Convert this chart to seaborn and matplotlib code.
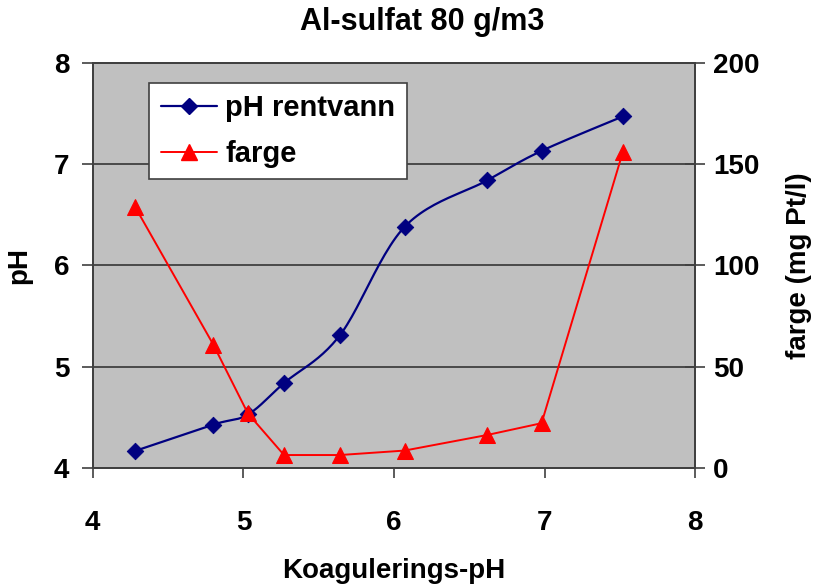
import numpy as np
import pandas as pd
import matplotlib
matplotlib.use("Agg")
import matplotlib.pyplot as plt
from matplotlib.lines import Line2D
import seaborn as sns

# data
KOAG_PH = [4.28, 4.80, 5.03, 5.27, 5.64, 6.07, 6.62, 6.98, 7.52]
PH_RENTVANN = [4.17, 4.43, 4.53, 4.84, 5.31, 6.38, 6.84, 7.13, 7.47]
FARGE = [129, 61, 27, 6.5, 6.5, 8.7, 16.4, 22.2, 156]

TITLE = "Al-sulfat 80 g/m3"
XLABEL = "Koagulerings-pH"
YLABEL = "pH"
Y2LABEL = "farge (mg Pt/l)"

BLUE = "#000080"
RED = "#FF0000"


def smooth_curve(x, y, n=25):
    # Catmull-Rom through the points, like Excel's "smoothed line"
    P = np.column_stack([x, y]).astype(float)
    P = np.vstack([P[0], P, P[-1]])
    t = np.linspace(0, 1, n, endpoint=False)[:, None]
    segs = []
    for i in range(1, len(P) - 2):
        p0, p1, p2, p3 = P[i - 1], P[i], P[i + 1], P[i + 2]
        segs.append(0.5 * (2 * p1 + (-p0 + p2) * t
                           + (2 * p0 - 5 * p1 + 4 * p2 - p3) * t ** 2
                           + (-p0 + 3 * p1 - 3 * p2 + p3) * t ** 3))
    segs.append(P[-2][None])
    c = np.vstack(segs)
    return pd.DataFrame({"x": c[:, 0], "y": c[:, 1]})


sns.set_style("white")
plt.rcParams["font.family"] = ["Liberation Sans", "DejaVu Sans"]
plt.rcParams["font.weight"] = "bold"
for key in ("text.color", "axes.labelcolor", "xtick.labelcolor", "ytick.labelcolor"):
    plt.rcParams[key] = "black"
FS = 20

fig = plt.figure(figsize=(8.14, 5.86), dpi=100)
ax = fig.add_axes([0.114, 0.201, 0.740, 0.692])
ax.set_facecolor("#C0C0C0")

curve = smooth_curve(KOAG_PH, PH_RENTVANN)
sns.lineplot(data=curve, x="x", y="y", ax=ax, color=BLUE, lw=1.6,
             sort=False, estimator=None)
sns.scatterplot(x=KOAG_PH, y=PH_RENTVANN, ax=ax, marker="D", s=70,
                color=BLUE, edgecolor=BLUE, zorder=3)

ax.set_xlim(4, 8)
ax.set_ylim(4, 8)
ax.set_xticks([4, 5, 6, 7, 8])
ax.set_yticks([4, 5, 6, 7, 8])
ax.yaxis.grid(True, color="#404040", lw=1.3)
ax.xaxis.grid(False)
ax.set_axisbelow(True)

ax2 = ax.twinx()
sns.lineplot(x=KOAG_PH, y=FARGE, ax=ax2, color=RED, lw=1.4, marker="^",
             markersize=11, markeredgecolor=RED, sort=False)
ax2.set_ylim(0, 200)
ax2.set_yticks([0, 50, 100, 150, 200])

for a in (ax, ax2):
    for s in a.spines.values():
        s.set_color("#404040")
        s.set_linewidth(1.3)

ax.tick_params(axis="x", direction="out", length=7, width=1.2, color="#404040",
               labelsize=FS, pad=23, bottom=True)
ax.tick_params(axis="y", direction="out", length=8, width=1.2, color="#404040",
               labelsize=FS, pad=9, left=True)
ax2.tick_params(axis="y", direction="inout", length=14, width=1.2,
                color="#404040", labelsize=FS, pad=6, right=True)
for lab in ax.get_xticklabels() + ax.get_yticklabels() + ax2.get_yticklabels():
    lab.set_fontweight("bold")

ax.set_xlabel(XLABEL, fontsize=FS, fontweight="bold")
ax.set_ylabel(YLABEL, fontsize=FS, fontweight="bold")
ax2.set_ylabel(Y2LABEL, fontsize=FS, fontweight="bold", rotation=90)
ax.xaxis.set_label_coords(0.5, -0.222)
ax.yaxis.set_label_coords(-0.10, 0.5)
ax2.yaxis.set_label_coords(1.15, 0.5)

fig.suptitle(TITLE, fontsize=22, fontweight="bold", y=0.963, va="center",
             x=0.519)

handles = [
    Line2D([], [], color=BLUE, lw=1.6, marker="D", markersize=8),
    Line2D([], [], color=RED, lw=1.4, marker="^", markersize=11),
]
leg = ax2.legend(handles, ["pH rentvann", "farge"], loc="upper left",
                 bbox_to_anchor=(0.094, 0.951), borderaxespad=0,
                 fontsize=21, frameon=True, fancybox=False,
                 handlelength=1.9, handletextpad=0.3, borderpad=0.4,
                 labelspacing=0.6)
leg.get_frame().set_edgecolor("#404040")
leg.get_frame().set_linewidth(1.2)
leg.get_frame().set_facecolor("white")
leg.get_frame().set_alpha(1)
for t in leg.get_texts():
    t.set_fontweight("bold")

fig.savefig("out.png", dpi=100)
